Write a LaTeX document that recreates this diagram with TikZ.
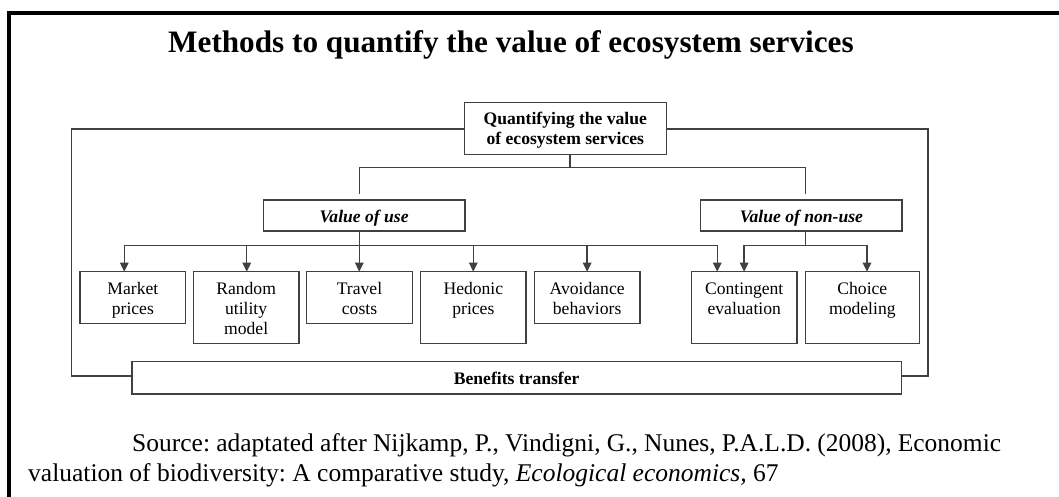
\documentclass[tikz,border=0pt]{standalone}
\usepackage{fontspec}
\setmainfont{Liberation Serif}
\usetikzlibrary{arrows.meta,calc}
\frenchspacing
\newcommand\bxt[3]{\parbox[c][#2][t]{#1}{\centering\fontsize{17.6pt}{20pt}\selectfont\rule{0pt}{22.5pt}#3\par}}
\begin{document}
\begin{tikzpicture}[x=1pt,y=-1pt,
  bx/.style={draw=black!75, line width=1.4pt, inner sep=0pt, outer sep=0pt, text=black},
  ln/.style={draw=black!75, line width=1.4pt, line cap=rect},
  arr/.style={ln, -{Triangle[length=9pt,width=8.5pt]}},
  txt/.style={anchor=base west, inner sep=0pt, text=black}]
\useasboundingbox (0,0) rectangle (1059,497);
\fill[white] (0,0) rectangle (1059,497);
\draw[line width=4pt] (9,500) -- (9,13) -- (1062,13);

\node[txt] (title) at (168,52.3) {\fontsize{31.2pt}{36pt}\selectfont\bfseries Methods to quantify the value of ecosystem services};

\node[bx] (qv) at (565.3,128.3) {\bxt{202pt}{52pt}{\bfseries Quantifying the value\\of ecosystem services}};
\node[bx] (vuse) at (364.15,215.5) {\bxt{201.7pt}{31pt}{\bfseries\itshape Value of use}};
\node[bx] (vnon) at (801.4,215.5) {\bxt{201.4pt}{31pt}{\bfseries\itshape Value of non-use}};

\node[bx] (mp) at (132.85,297.5) {\bxt{105.7pt}{51.6pt}{Market\\prices}};
\node[bx] (ru) at (246.15,307.7) {\bxt{105.7pt}{72pt}{Random\\utility\\model}};
\node[bx] (tc) at (359.5,297.5) {\bxt{105.6pt}{51.6pt}{Travel\\costs}};
\node[bx] (hp) at (473.35,307.7) {\bxt{105.3pt}{72pt}{Hedonic\\prices}};
\node[bx] (ab) at (587.15,297.5) {\bxt{105.3pt}{51.6pt}{Avoidance\\behaviors}};
\node[bx] (ce) at (744.25,307.5) {\bxt{105.7pt}{71.6pt}{Contingent\\evaluation}};
\node[bx] (cm) at (862.35,307.5) {\bxt{113.9pt}{71.6pt}{Choice\\modeling}};

\node[bx] (bt) at (516.65,377.85) {\bxt{769.3pt}{32.3pt}{\bfseries Benefits transfer}};

% outer loop
\coordinate (cL) at (71.7,376);
\coordinate (cR) at (928,376);
\draw[ln] (qv.west |- 0,129) -| (cL) -- (bt.west |- cL);
\draw[ln] (qv.east |- 0,129) -| (cR) -- (bt.east |- cR);

% first split
\coordinate (j0) at (569.9,167.7);
\coordinate (jL) at (359.3,167.7);
\coordinate (jR) at (805.7,167.7);
\draw[ln] (qv.south -| j0) -- (j0);
\draw[ln] ($(vuse.north -| jL)+(0,-6.7)$) -- (jL) -- (jR) -- ($(vnon.north -| jR)+(0,-6.7)$);

% value of use bus
\coordinate (b1) at (124.3,245.7);
\coordinate (b2) at (246.7,245.7);
\coordinate (b3) at (359.3,245.7);
\coordinate (b4) at (473.3,245.7);
\coordinate (b5) at (587.1,245.7);
\coordinate (b6) at (717.2,245.7);
\draw[ln] (b1) -- (b6);
\draw[ln] (vuse.south -| b3) -- (b3);
\draw[arr] (b1) -- (b1 |- mp.north);
\draw[arr] (b2) -- (b2 |- ru.north);
\draw[arr] (b3) -- (b3 |- tc.north);
\draw[arr] (b4) -- (b4 |- hp.north);
\draw[arr] (b5) -- (b5 |- ab.north);
\draw[arr] (b6) -- (b6 |- ce.north);

% value of non-use bus
\coordinate (n0) at (805.7,245.7);
\coordinate (n1) at (744.1,245.7);
\coordinate (n2) at (867,245.7);
\draw[ln] (vnon.south -| n0) -- (n0);
\draw[ln] (n1) -- (n2);
\draw[arr] (n1) -- (n1 |- ce.north);
\draw[arr] (n2) -- (n2 |- cm.north);

\node[txt] (src1) at (132,451.5) {\fontsize{25.5pt}{30pt}\selectfont\makebox[869pt][s]{Source: adaptated after Nijkamp, P., Vindigni, G., Nunes, P.A.L.D. (2008), Economic}};
\node[txt] (src2) at (28,481.7) {\fontsize{25.5pt}{30pt}\selectfont valuation of biodiversity: A comparative study, \textit{Ecological economics,} 67};
\end{tikzpicture}
\end{document}
